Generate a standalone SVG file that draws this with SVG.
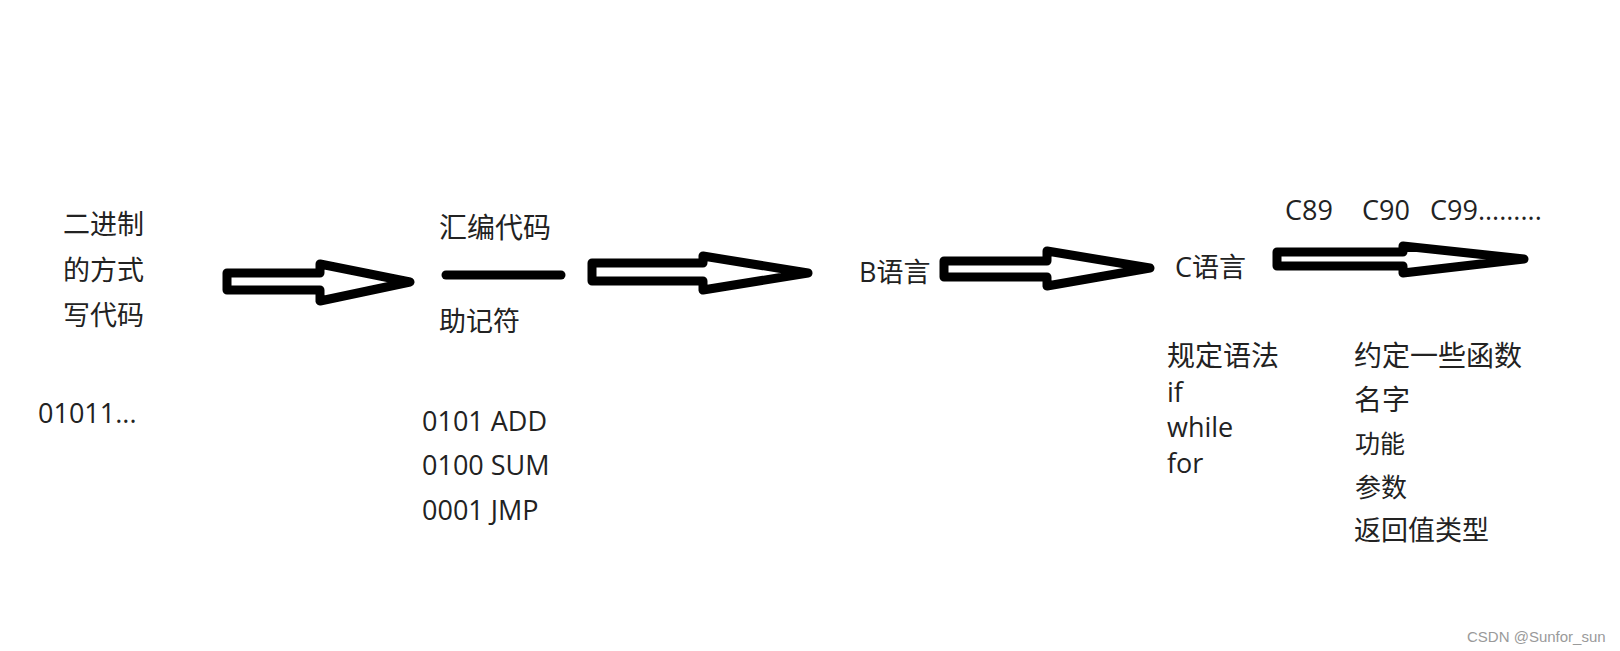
<svg xmlns="http://www.w3.org/2000/svg" width="1620" height="651" viewBox="0 0 1620 651">
  <style>
    .cjk { font-family: "Noto Sans CJK SC", sans-serif; fill: #222; }
    .lat { font-family: "Open Sans", "Noto Sans CJK SC", sans-serif; fill: #222; }
    .arrow { fill: #fff; stroke: #000; stroke-width: 9; stroke-linejoin: round; stroke-linecap: round; }
    .wm { font-family: "Liberation Sans", Arial, sans-serif; font-size: 15px; fill: #9a9a9a; }
  </style>
  <rect width="1620" height="651" fill="#fff"/>

  <g id="binary">
    <text class="cjk" font-size="27" x="63" y="234">二进制</text>
    <text class="cjk" font-size="27" x="63" y="280">的方式</text>
    <text class="cjk" font-size="27" x="63" y="325">写代码</text>
    <text class="lat" font-size="27" x="38" y="423">01011...</text>
  </g>

  <g id="assembly">
    <text class="cjk" font-size="28" x="439" y="238">汇编代码</text>
    <line x1="446" y1="275" x2="561" y2="275" stroke="#000" stroke-width="9" stroke-linecap="round"/>
    <text class="cjk" font-size="27" x="439" y="331">助记符</text>
    <text class="lat" font-size="27" x="422" y="431">0101 ADD</text>
    <text class="lat" font-size="27" x="422" y="475">0100 SUM</text>
    <text class="lat" font-size="27" x="422" y="520">0001 JMP</text>
  </g>

  <g id="blang">
    <text class="lat" font-size="27" x="859" y="282">B语言</text>
  </g>

  <g id="clang">
    <text class="lat" font-size="27" x="1175" y="277">C语言</text>
    <text class="cjk" font-size="28" x="1167" y="366">规定语法</text>
    <text class="lat" font-size="27" x="1167" y="402">if</text>
    <text class="lat" font-size="27" x="1167" y="437">while</text>
    <text class="lat" font-size="27" x="1167" y="473">for</text>
  </g>

  <g id="standards">
    <text class="lat" font-size="27" y="220"><tspan x="1285">C89</tspan><tspan x="1362">C90</tspan><tspan x="1430">C99.........</tspan></text>
    <text class="cjk" font-size="28" x="1354" y="366">约定一些函数</text>
    <text class="cjk" font-size="28" x="1354" y="410">名字</text>
    <text class="cjk" font-size="25" x="1355" y="453">功能</text>
    <text class="cjk" font-size="26" x="1355" y="497">参数</text>
    <text class="cjk" font-size="27" x="1354" y="540">返回值类型</text>
  </g>

  <g id="connectors">
    <path class="arrow" d="M227,273 L320,273 L320,264 L410,282 L320,301 L320,290 L227,290 Z"/>
    <path class="arrow" d="M592,263 L703,263 L703,256 L808,273 L703,290 L703,281 L592,281 Z"/>
    <path class="arrow" d="M944,261 L1047,261 L1047,251 L1150,268 L1047,286 L1047,277 L944,277 Z"/>
    <path class="arrow" stroke-width="8" d="M1277,252 L1403,252 L1403,246 L1524,259 L1403,273 L1403,266 L1277,266 Z"/>
  </g>

  <text class="wm" x="1467" y="642">CSDN @Sunfor_sun</text>
</svg>
